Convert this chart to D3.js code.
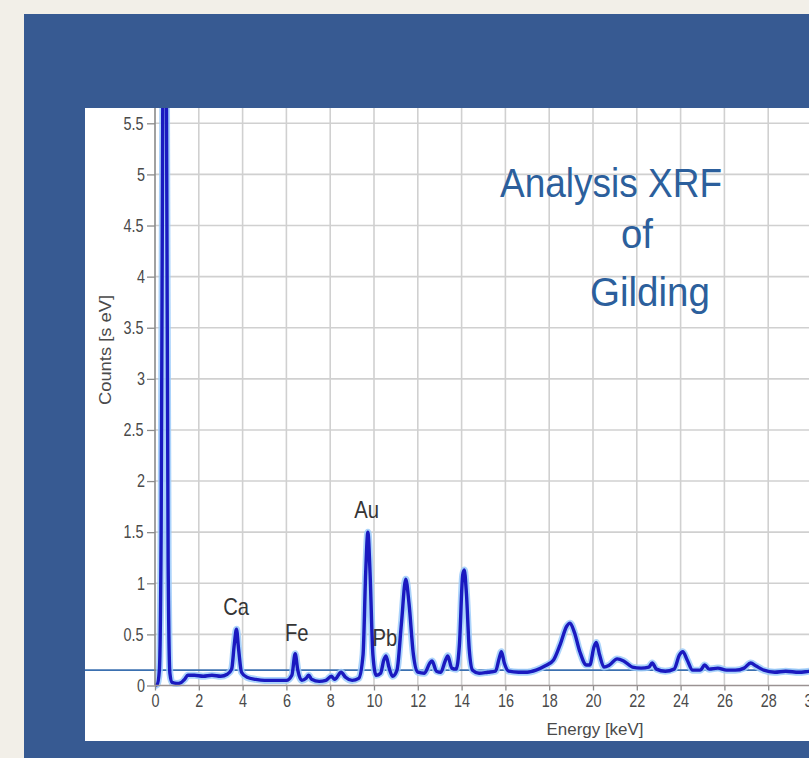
<!DOCTYPE html>
<html><head><meta charset="utf-8">
<script src="https://cdn.jsdelivr.net/npm/d3@7"></script>
<style>
html,body{margin:0;padding:0;background:#f2efe8;overflow:hidden;}
svg{display:block;}
.narrow{transform-box:fill-box;transform-origin:center;transform:scaleX(0.8);}
.narrow2{transform-box:fill-box;transform-origin:center;transform:scaleX(0.88);}
</style></head><body>
<svg id="chart" width="809" height="758"></svg>
<script>
// ---- data ----
const energy = [0.00,0.10,0.20,0.28,0.36,0.44,0.52,0.60,0.68,0.78,1.0,1.2,1.35,1.5,1.8,2.2,2.6,3.0,3.3,3.5,3.62,3.72,3.82,3.95,4.2,4.6,5.0,5.5,6.0,6.25,6.40,6.52,6.7,6.9,7.02,7.15,7.5,7.8,8.05,8.2,8.5,8.7,9.0,9.3,9.5,9.62,9.72,9.82,9.95,10.1,10.3,10.45,10.55,10.68,10.85,11.05,11.25,11.45,11.6,11.8,12.0,12.3,12.55,12.65,12.85,13.05,13.25,13.37,13.55,13.75,13.9,14.05,14.12,14.22,14.35,14.5,14.8,15.2,15.55,15.72,15.82,15.95,16.15,16.6,17.0,17.4,17.8,18.2,18.5,18.8,18.95,19.15,19.4,19.7,19.85,20.05,20.15,20.3,20.5,20.75,21.1,21.4,21.8,22.2,22.55,22.7,22.9,23.3,23.7,23.95,24.1,24.3,24.55,24.9,25.1,25.3,25.7,26.1,26.5,26.9,27.2,27.45,27.8,28.3,28.8,29.4,30.0,30.6];
const counts = [0.00,0.01,0.15,1.5,6.0,8.0,6.0,1.2,0.12,0.03,0.02,0.03,0.06,0.10,0.10,0.09,0.10,0.09,0.11,0.16,0.40,0.55,0.35,0.13,0.08,0.06,0.05,0.05,0.05,0.10,0.31,0.15,0.05,0.07,0.10,0.06,0.04,0.05,0.09,0.06,0.13,0.08,0.05,0.07,0.30,1.10,1.50,1.10,0.30,0.10,0.12,0.25,0.29,0.18,0.09,0.15,0.60,1.04,0.80,0.30,0.13,0.12,0.22,0.24,0.14,0.13,0.24,0.29,0.17,0.16,0.40,1.08,1.13,0.90,0.35,0.15,0.12,0.13,0.14,0.27,0.33,0.22,0.14,0.13,0.13,0.15,0.19,0.25,0.40,0.58,0.61,0.52,0.33,0.20,0.20,0.38,0.42,0.30,0.18,0.20,0.26,0.24,0.18,0.17,0.18,0.22,0.16,0.14,0.16,0.30,0.33,0.25,0.15,0.15,0.20,0.16,0.17,0.15,0.15,0.17,0.22,0.19,0.15,0.13,0.14,0.13,0.14,0.14];
const xTicks = [0,2,4,6,8,10,12,14,16,18,20,22,24,26,28,30];
const yTicks = [0,0.5,1,1.5,2,2.5,3,3.5,4,4.5,5,5.5];
const peakNames = ["Ca","Fe","Au","Pb"];
const peakLabelEnergy = [3.70,6.47,9.66,10.5];
const peakLabelCounts = [0.69,0.44,1.64,0.39];
const referenceLevel = [0.15];
const titleLines = ["Analysis XRF","of","Gilding"];
const xLabel = "Energy [keV]";
const yLabel = "Counts [s eV]";

// ---- layout ----
const W = 809, H = 758;
const svg = d3.select("#chart");
const panel = {x:24, y:14, w:W-24, h:H-14};
const plotBox = {x:85, y:108, w:W-85, h:633};
const FONT = "'Liberation Sans', Arial, sans-serif";

svg.append("rect").attr("x",0).attr("y",0).attr("width",W).attr("height",H).attr("fill","#f2efe8");
svg.append("rect").attr("x",panel.x).attr("y",panel.y).attr("width",panel.w).attr("height",panel.h).attr("fill","#375a92");
svg.append("rect").attr("x",plotBox.x).attr("y",plotBox.y).attr("width",plotBox.w).attr("height",plotBox.h).attr("fill","#ffffff");

const x = d3.scaleLinear().domain([0,30]).range([155,155+21.9*30]);
const y = d3.scaleLinear().domain([0,5.5]).range([685.5,123.3]);

svg.append("defs").append("clipPath").attr("id","clip")
  .append("rect").attr("x",plotBox.x).attr("y",plotBox.y).attr("width",plotBox.w).attr("height",plotBox.h);

const g = svg.append("g").attr("clip-path","url(#clip)");

// grid
g.selectAll(".vgrid").data(xTicks.filter(d=>d>0)).join("line")
  .attr("x1",d=>x(d)).attr("x2",d=>x(d)).attr("y1",plotBox.y).attr("y2",y(0))
  .attr("stroke","#d0d0d0").attr("stroke-width",1.6);
g.selectAll(".hgrid").data(yTicks.filter(d=>d>0)).join("line")
  .attr("x1",x(0)).attr("x2",W).attr("y1",d=>y(d)).attr("y2",d=>y(d))
  .attr("stroke","#d0d0d0").attr("stroke-width",1.6);

// axes
const yAxis = d3.axisLeft(y).tickValues(yTicks).tickSize(8).tickPadding(1).tickFormat(d3.format("~g"));
const yG = svg.append("g").attr("transform",`translate(${x(0)},0)`).call(yAxis);
yG.select(".domain").remove();
yG.selectAll(".tick line").attr("stroke","#8c8c8c").attr("stroke-width",1.3);
yG.selectAll(".tick text").attr("class","narrow").attr("fill","#4a4a4a").attr("font-family",FONT).attr("font-size",18);

const xAxis = d3.axisBottom(x).tickValues(xTicks).tickSize(5).tickPadding(4).tickFormat(d3.format("d"));
const xG = svg.append("g").attr("transform",`translate(0,${y(0)})`).call(xAxis);
xG.select(".domain").remove();
xG.selectAll(".tick line").attr("stroke","#8c8c8c").attr("stroke-width",1.3);
xG.selectAll(".tick text").attr("class","narrow").attr("fill","#4a4a4a").attr("font-family",FONT).attr("font-size",18);

svg.append("line").attr("x1",x(0)).attr("x2",x(0)).attr("y1",plotBox.y).attr("y2",y(0))
  .attr("stroke","#8a8a8a").attr("stroke-width",1.6);
svg.append("line").attr("x1",x(0)).attr("x2",W).attr("y1",y(0)).attr("y2",y(0))
  .attr("stroke","#9a9292").attr("stroke-width",1.6);

// reference level line
g.selectAll(".ref").data(referenceLevel).join("line")
  .attr("x1",plotBox.x).attr("x2",W).attr("y1",d=>y(d)).attr("y2",d=>y(d))
  .attr("stroke","#3b70b0").attr("stroke-width",1.7);

// spectrum
const pts = energy.map((e,i)=>[e,counts[i]]);
const line = d3.line().x(d=>x(d[0])).y(d=>y(d[1])).curve(d3.curveMonotoneX);
g.append("path").attr("d",line(pts)).attr("fill","none").attr("stroke","#9ccbfa").attr("stroke-width",7).attr("stroke-linejoin","round").attr("opacity",0.85);
g.append("path").attr("d",line(pts)).attr("fill","none").attr("stroke","#1a1ac0").attr("stroke-width",3.4).attr("stroke-linejoin","round");

// peak labels
svg.selectAll(".peak").data(peakNames).join("text")
  .attr("x",(d,i)=>x(peakLabelEnergy[i])).attr("y",(d,i)=>y(peakLabelCounts[i]))
  .attr("text-anchor","middle").attr("class","narrow2")
  .attr("font-family",FONT).attr("font-size",23)
  .attr("fill","#353535").text(d=>d);

// axis titles
svg.append("text").attr("x",595).attr("y",735).attr("text-anchor","middle")
  .attr("font-family",FONT).attr("font-size",17)
  .attr("textLength",97).attr("lengthAdjust","spacingAndGlyphs")
  .attr("fill","#4a4a4a").text(xLabel);
svg.append("text").attr("transform","translate(111,350) rotate(-90)").attr("text-anchor","middle")
  .attr("font-family",FONT).attr("font-size",16)
  .attr("textLength",110).attr("lengthAdjust","spacingAndGlyphs")
  .attr("fill","#4a4a4a").text(yLabel);

// title
const titlePos = [[611,197,222],[637,248,32],[650,306,120]];
svg.selectAll(".title").data(titleLines).join("text")
  .attr("x",(d,i)=>titlePos[i][0]).attr("y",(d,i)=>titlePos[i][1])
  .attr("text-anchor","middle").attr("textLength",(d,i)=>titlePos[i][2]).attr("lengthAdjust","spacingAndGlyphs")
  .attr("font-family",FONT).attr("font-size",40)
  .attr("fill","#2c5f9c").text(d=>d);
</script>
</body></html>
